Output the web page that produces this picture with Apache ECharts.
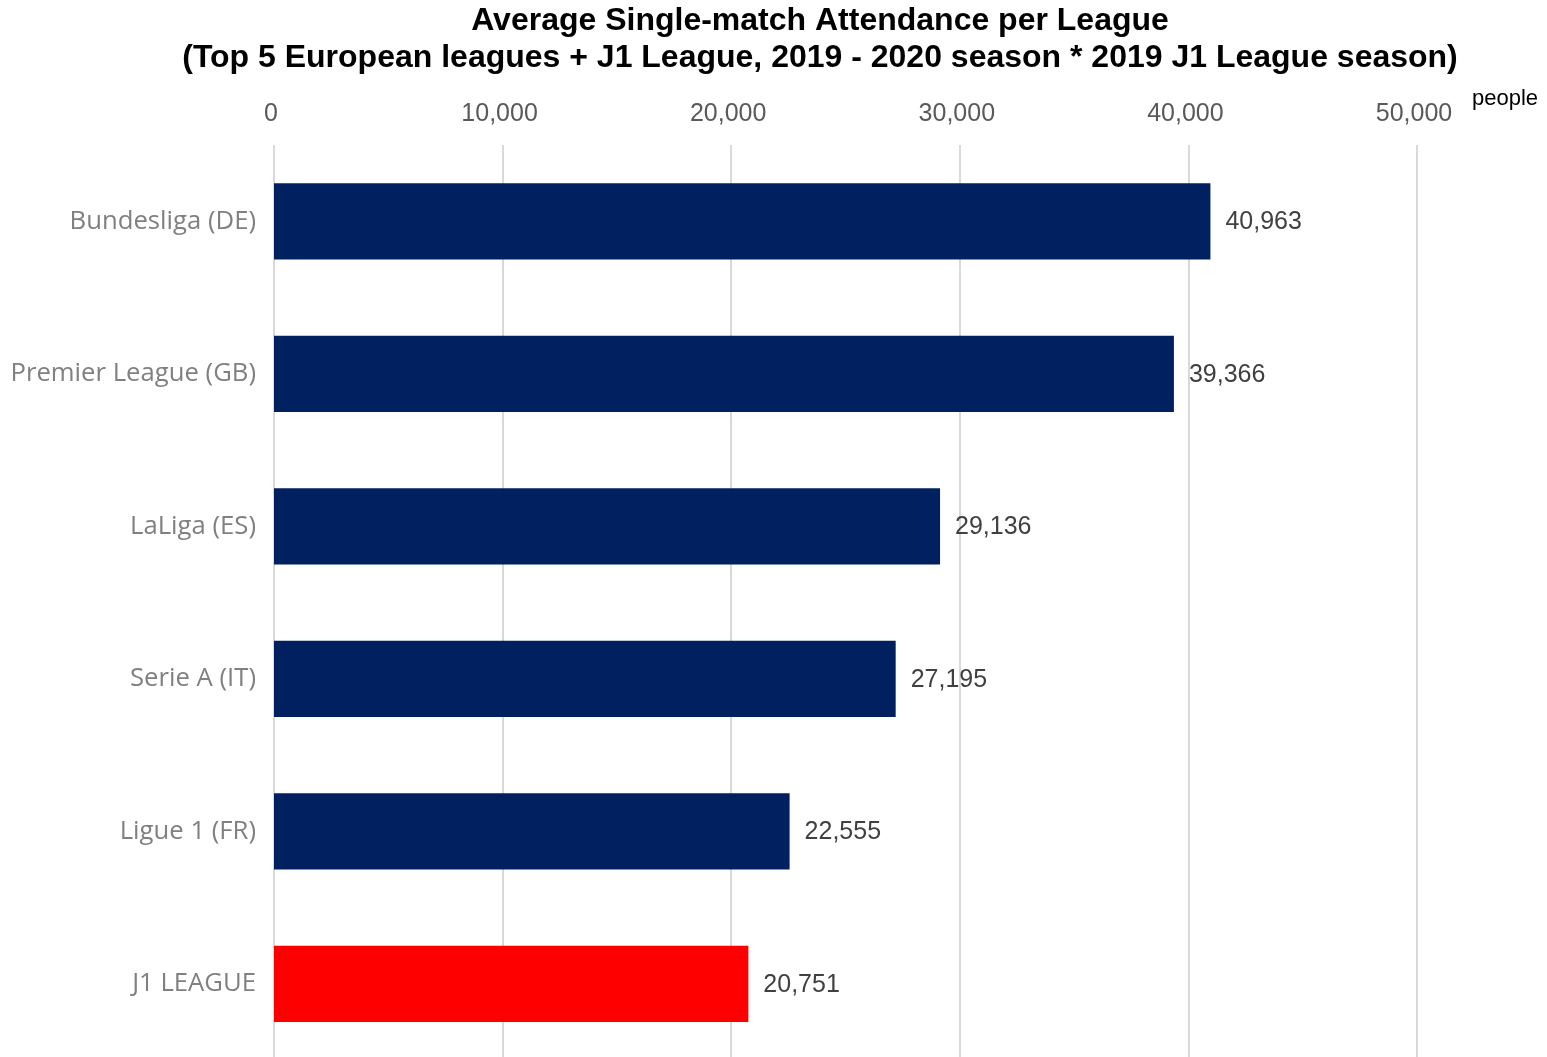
<!DOCTYPE html>
<html>
<head>
<meta charset="utf-8">
<title>Average Single-match Attendance per League</title>
<script src="https://cdn.jsdelivr.net/npm/echarts@6/dist/echarts.min.js"></script>
<style>
  html, body { margin: 0; padding: 0; background: #ffffff; overflow: hidden; }
  #chart { width: 1547px; height: 1064px; }
</style>
</head>
<body>
<div id="chart"></div>
<script>
// League names, top to bottom
const leagues = [
  'Bundesliga (DE)',
  'Premier League (GB)',
  'LaLiga (ES)',
  'Serie A (IT)',
  'Ligue 1 (FR)',
  'J1 LEAGUE'
];
// Average attendance per match (people)
const attendance = [40963, 39366, 29136, 27195, 22555, 20751];
// Bar colours: European leagues in navy, J1 League highlighted in red
const barColors = ['#002060', '#002060', '#002060', '#002060', '#002060', '#ff0000'];
// Value axis ticks
const axisMin = 0;
const axisMax = 50000;
const axisStep = 10000;

const fmt = v => Number(v).toLocaleString('en-US');

const chart = echarts.init(document.getElementById('chart'), null, { renderer: 'canvas' });

chart.setOption({
  backgroundColor: '#ffffff',
  animation: false,
  title: {
    text: 'Average Single-match Attendance per League\n(Top 5 European leagues + J1 League, 2019 - 2020 season * 2019 J1 League season)',
    left: 815,
    top: -2,
    textAlign: 'center',
    textStyle: {
      fontFamily: '"Liberation Sans", Arial, sans-serif',
      fontSize: 32,
      fontWeight: 'bold',
      color: '#000000',
      lineHeight: 37
    }
  },
  graphic: [{
    type: 'text',
    left: 1472,
    top: 88,
    style: {
      text: 'people',
      fontFamily: '"Liberation Sans", Arial, sans-serif',
      fontSize: 22,
      fill: '#000000'
    }
  }],
  grid: {
    left: 274,
    right: 130,
    top: 145,
    height: 915,
    containLabel: false
  },
  xAxis: {
    type: 'value',
    position: 'top',
    min: axisMin,
    max: axisMax,
    interval: axisStep,
    axisLine: { show: false },
    axisTick: { show: false },
    axisLabel: {
      margin: 18,
      padding: [0, 6, 0, 0],
      fontFamily: '"Liberation Sans", Arial, sans-serif',
      fontSize: 25,
      color: '#595959',
      formatter: v => fmt(v)
    },
    splitLine: { show: true, lineStyle: { color: '#d9d9d9', width: 2 } }
  },
  yAxis: {
    type: 'category',
    inverse: true,
    data: leagues,
    axisLine: { show: false },
    axisTick: { show: false },
    axisLabel: {
      margin: 18,
      fontFamily: '"Open Sans", "Noto Sans", sans-serif',
      fontSize: 25.7,
      color: '#808080'
    }
  },
  series: [{
    type: 'bar',
    barWidth: '50%',
    data: attendance.map((v, i) => ({ value: v, itemStyle: { color: barColors[i] } })),
    label: {
      show: true,
      position: 'right',
      distance: 15,
      offset: [0, 1],
      fontFamily: '"Liberation Sans", Arial, sans-serif',
      fontSize: 25,
      color: '#404040',
      formatter: p => fmt(p.value)
    }
  }]
});
</script>
</body>
</html>
